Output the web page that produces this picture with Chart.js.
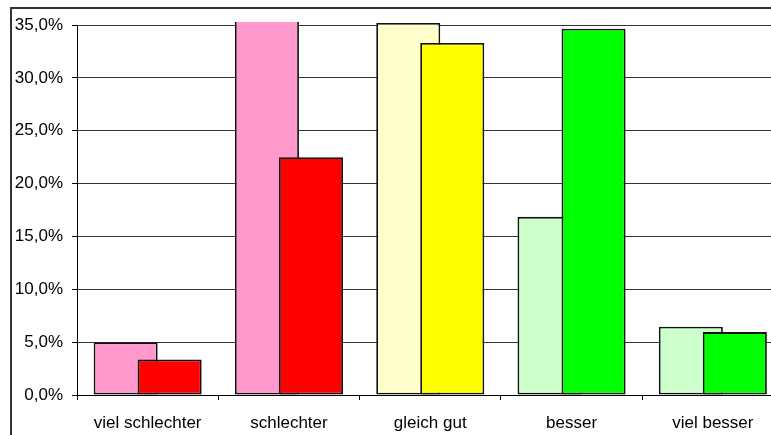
<!DOCTYPE html>
<html>
<head>
<meta charset="utf-8">
<script src="https://cdn.jsdelivr.net/npm/chart.js@4/dist/chart.umd.min.js"></script>
<style>
  html, body { margin: 0; padding: 0; background: #fff; overflow: hidden; }
  #wrap { position: relative; width: 771px; height: 435px; overflow: hidden; }
  #frame { position: absolute; left: 10px; top: 7px; width: 800px; height: 500px;
           border-left: 2px solid #333; border-top: 2px solid #333; }
  #c { position: absolute; left: 0; top: 0; }
</style>
</head>
<body>
<div id="wrap">
  <div id="frame"></div>
  <canvas id="c" width="800" height="450"></canvas>
</div>
<script>
// ── Vergleich: Anteile je Kategorie (in %) ─────────────────────────────────
const categories = ['viel schlechter', 'schlechter', 'gleich gut', 'besser', 'viel besser'];
const seriesA = [5.0, 36.0, 35.2, 16.85, 6.45];   // helle Balken
const seriesB = [3.35, 22.5, 33.3, 34.65, 5.95];  // kräftige Balken
const yTicks  = [0, 5, 10, 15, 20, 25, 30, 35];

const colsA = ['#FF99CC', '#FF99CC', '#FFFFCC', '#CCFFCC', '#CCFFCC'];
const colsB = ['#FF0000', '#FF0000', '#FFFF00', '#00FF00', '#00FF00'];

const FONT = { family: '"Liberation Sans", Arial, sans-serif', size: 17 };
const pct = v => v.toFixed(1).replace('.', ',') + '%';

// bars overlap (barPercentage > 1); later datasets must be painted on top
const frontToBack = {
  id: 'frontToBack',
  beforeDatasetsDraw(chart) {
    chart.getSortedVisibleDatasetMetas().forEach(m => chart._drawDataset(m));
    return false;
  }
};

const barOpts = {
  borderColor: '#111',
  borderWidth: 1.8,
  borderSkipped: false,
  categoryPercentage: 0.623,
  barPercentage: 1.455,
  clip: { left: 10, right: 10, top: 3, bottom: 0 },
};

new Chart(document.getElementById('c'), {
  type: 'bar',
  data: {
    labels: categories,
    datasets: [
      { ...barOpts, data: seriesA, backgroundColor: colsA },
      { ...barOpts, data: seriesB, backgroundColor: colsB },
    ]
  },
  plugins: [frontToBack],
  options: {
    responsive: false,
    animation: false,
    devicePixelRatio: 1,
    layout: { padding: { left: 0, top: 25, right: 16.5, bottom: 0 } },
    plugins: { legend: { display: false }, tooltip: { enabled: false } },
    scales: {
      x: {
        offset: true,
        grid: { offset: true, drawOnChartArea: false, drawTicks: true, tickLength: 5, tickColor: '#000' },
        border: { color: '#000', width: 1 },
        ticks: { color: '#000', font: FONT, padding: 13, maxRotation: 0, autoSkip: false },
        afterFit: s => { s.height = 55; }
      },
      y: {
        min: 0, max: 35,
        afterBuildTicks: s => { s.ticks = yTicks.map(v => ({ value: v })); },
        grid: { color: '#333', lineWidth: 1, tickLength: 5, tickColor: '#000' },
        border: { color: '#000', width: 1 },
        ticks: { color: '#000', font: FONT, padding: 9, callback: v => pct(v) },
        afterFit: s => { s.width = 77; }
      }
    }
  }
});
</script>
</body>
</html>
